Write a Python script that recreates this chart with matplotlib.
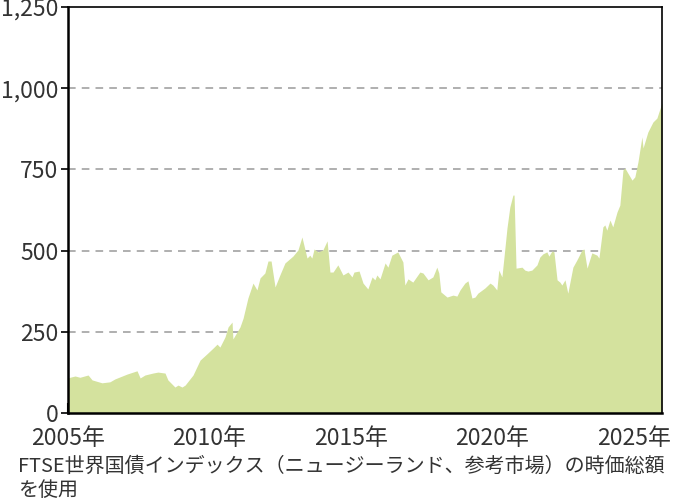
import matplotlib.pyplot as plt
from matplotlib.ticker import FuncFormatter

plt.rcParams['font.family'] = ['Noto Sans CJK JP', 'DejaVu Sans']

# decimal year and market value
years = [2005.00, 2005.07, 2005.25, 2005.42, 2005.71, 2005.85, 2006.20, 2006.48, 2006.66,
         2007.09, 2007.44, 2007.55, 2007.72, 2008.00, 2008.18, 2008.43, 2008.53, 2008.78,
         2008.89, 2009.03, 2009.14, 2009.42, 2009.67, 2009.91, 2010.13, 2010.27, 2010.37,
         2010.55, 2010.66, 2010.80, 2010.83, 2011.08, 2011.19, 2011.36, 2011.54, 2011.68,
         2011.79, 2011.96, 2012.07, 2012.18, 2012.32, 2012.49, 2012.67, 2012.95, 2013.13,
         2013.27, 2013.45, 2013.55, 2013.62, 2013.70, 2013.84, 2014.01, 2014.16, 2014.26,
         2014.37, 2014.54, 2014.72, 2014.90, 2015.04, 2015.11, 2015.29, 2015.43, 2015.60,
         2015.75, 2015.85, 2015.92, 2016.03, 2016.21, 2016.31, 2016.45, 2016.66, 2016.84,
         2016.91, 2017.02, 2017.19, 2017.44, 2017.55, 2017.73, 2017.90, 2018.04, 2018.11,
         2018.18, 2018.40, 2018.61, 2018.75, 2018.86, 2019.03, 2019.14, 2019.28, 2019.39,
         2019.49, 2019.74, 2019.92, 2020.02, 2020.16, 2020.23, 2020.34, 2020.41, 2020.52,
         2020.62, 2020.73, 2020.77, 2020.84, 2021.05, 2021.15, 2021.26, 2021.40, 2021.58,
         2021.68, 2021.79, 2021.93, 2022.00, 2022.11, 2022.18, 2022.29, 2022.39, 2022.46,
         2022.57, 2022.67, 2022.85, 2022.99, 2023.17, 2023.24, 2023.35, 2023.52, 2023.70,
         2023.77, 2023.91, 2023.98, 2024.05, 2024.16, 2024.26, 2024.41, 2024.51, 2024.62,
         2024.69, 2024.79, 2024.94, 2025.04, 2025.15, 2025.29, 2025.33, 2025.50, 2025.68,
         2025.82, 2025.89, 2026.00]
values = [108, 110, 114, 110, 117, 102, 93, 96, 105,
          120, 130, 108, 117, 123, 126, 123, 102, 80,
          86, 80, 86, 117, 163, 182, 200, 212, 203,
          234, 265, 280, 228, 265, 292, 354, 400, 379,
          416, 431, 468, 468, 388, 425, 462, 483, 502,
          542, 477, 486, 477, 505, 496, 502, 530, 434,
          434, 456, 425, 434, 419, 434, 437, 400, 382,
          419, 410, 425, 413, 462, 449, 486, 496, 465,
          394, 413, 403, 434, 431, 410, 419, 449, 431,
          373, 357, 363, 360, 379, 400, 407, 354, 357,
          369, 385, 400, 394, 379, 440, 419, 477, 570,
          634, 671, 671, 446, 449, 440, 437, 440, 456,
          480, 490, 496, 483, 499, 496, 410, 403, 394,
          410, 369, 449, 471, 502, 505, 446, 493, 486,
          477, 573, 579, 563, 594, 573, 619, 640, 748,
          754, 739, 717, 727, 773, 850, 816, 865, 896,
          908, 927, 955]

year_ticks = [2005, 2010, 2015, 2020, 2025]
value_ticks = [0, 250, 500, 750, 1000, 1250]
caption = 'FTSE世界国債インデックス（ニュージーランド、参考市場）の時価総額\nを使用'

fig = plt.figure(figsize=(6.78, 4.99), dpi=100)
ax = fig.add_axes([0.1003, 0.1723, 0.8761, 0.8137])

ax.fill_between(years, values, 0, color='#d4e29e', linewidth=0, zorder=2)

for v in value_ticks[1:-1]:
    ax.axhline(v, color='#9a9a9a', linestyle=(0, (5, 4)), linewidth=1.1, zorder=1)

ax.set_xlim(2005, 2026)
ax.set_ylim(0, 1250)
ax.set_xticks(year_ticks)
ax.set_xticklabels([f'{y}年' for y in year_ticks])
ax.set_yticks(value_ticks)
ax.yaxis.set_major_formatter(FuncFormatter(lambda v, p: f'{int(v):,}'))

ax.tick_params(axis='x', direction='in', length=7, width=1.5, pad=10,
               labelsize=16.5, labelcolor='#333333')
ax.tick_params(axis='y', direction='out', length=5, width=1.2, pad=2,
               labelsize=16.5, labelcolor='#333333')
for side in ['top', 'right']:
    ax.spines[side].set_linewidth(1.2)
for side in ['left', 'bottom']:
    ax.spines[side].set_linewidth(1.8)
for s in ax.spines.values():
    s.set_zorder(3)

fig.text(0.027, 0.086, caption, fontsize=14.4, color='#333333',
         va='top', ha='left', linespacing=1.2)

plt.savefig('out.png', dpi=100)
